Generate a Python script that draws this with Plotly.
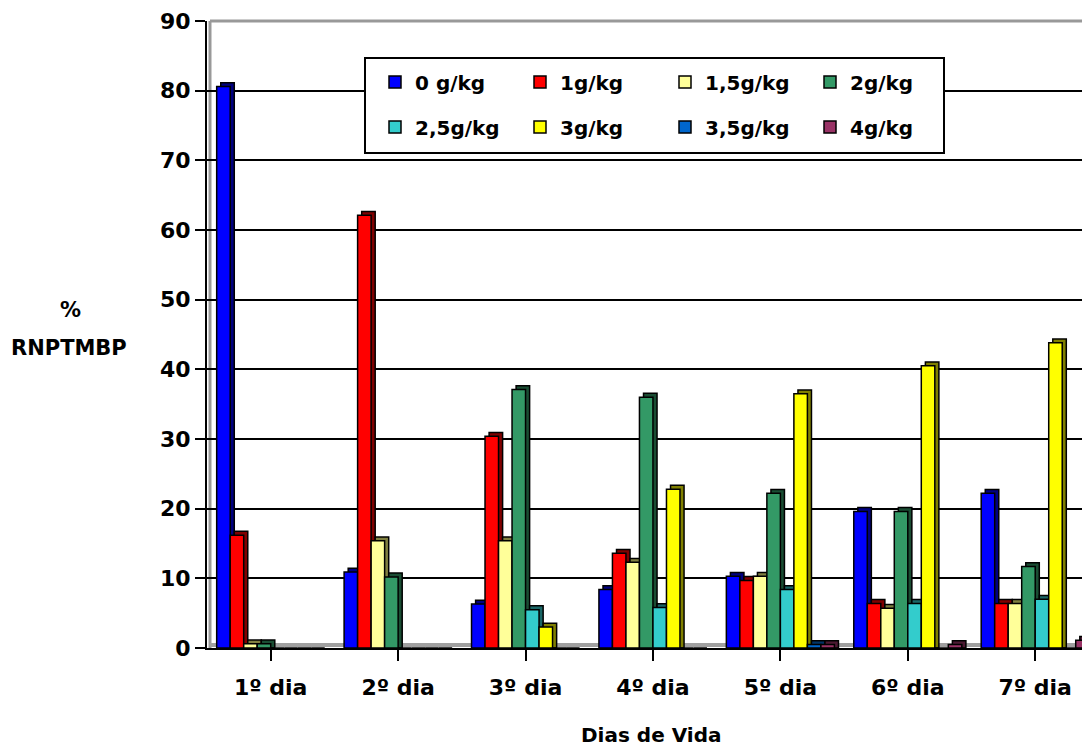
import plotly.graph_objects as go

days = ["1º dia", "2º dia", "3º dia", "4º dia", "5º dia", "6º dia", "7º dia"]
series_names = ["0 g/kg", "1g/kg", "1,5g/kg", "2g/kg", "2,5g/kg", "3g/kg", "3,5g/kg", "4g/kg"]

v_0 = [80.6, 10.9, 6.3, 8.4, 10.3, 19.6, 22.2]
v_1 = [16.2, 62.1, 30.4, 13.6, 9.7, 6.4, 6.4]
v_15 = [0.6, 15.4, 15.4, 12.3, 10.3, 5.7, 6.4]
v_2 = [0.6, 10.2, 37.1, 36.0, 22.2, 19.6, 11.7]
v_25 = [0, 0, 5.5, 5.8, 8.4, 6.4, 7.0]
v_3 = [0, 0, 3.0, 22.8, 36.5, 40.5, 43.8]
v_35 = [0, 0, 0, 0, 0.5, 0, 0]
v_4 = [0, 0, 0, 0, 0.5, 0.5, 1.1]

values = [v_0, v_1, v_15, v_2, v_25, v_3, v_35, v_4]
colors = ["#0000FF", "#FF0000", "#FFFF99", "#339966", "#33CCCC", "#FFFF00", "#0066CC", "#993366"]
dark = ["#000080", "#800000", "#808040", "#1A4D33", "#1A6666", "#808000", "#003366", "#4D1A33"]

FONT = "DejaVu Sans"
x_idx = list(range(len(days)))
n = len(series_names)
bw = 0.106
start = -bw * n / 2
depth_x = 0.032
depth_y = 0.55

fig = go.Figure()
# 3D side/top faces (drawn behind)
for i in range(n):
    ys = [v + depth_y if v > 0 else None for v in values[i]]
    fig.add_trace(go.Bar(
        x=x_idx, y=ys, width=bw, offset=start + i * bw + depth_x,
        marker=dict(color=dark[i], line=dict(color="black", width=1.5)),
        showlegend=False, hoverinfo="skip"))
# front faces
for i in range(n):
    fig.add_trace(go.Bar(
        x=x_idx, y=values[i], width=bw, offset=start + i * bw, name=series_names[i],
        marker=dict(color=colors[i], line=dict(color="black", width=1.5)),
        legend="legend" if i < 4 else "legend2"))

OFF = 8  # page body margin
W, H = 1090 - OFF, 747 - OFF
L, R, T, B = 207 - OFF, 0, 21 - OFF, 747 - 648
pw = W - L - R
ph = H - T - B

def px_x(p):
    return (p - OFF - L) / pw

def px_y(p):
    return (H - B - (p - OFF)) / ph

legend_common = dict(orientation="h", xanchor="left", yanchor="middle",
                     bgcolor="rgba(0,0,0,0)", borderwidth=0,
                     font=dict(family=FONT, size=20, color="black", weight="bold"),
                     entrywidth=100, itemwidth=30, traceorder="normal")

fig.update_layout(
    width=W, height=H,
    margin=dict(l=L, r=R, t=T, b=B, autoexpand=False),
    paper_bgcolor="white", plot_bgcolor="white",
    barmode="overlay",
    font=dict(family=FONT, size=20, color="black", weight="bold"),
    xaxis=dict(range=[-0.5, 6.43], tickvals=x_idx, ticktext=days,
               showline=True, linecolor="black", linewidth=2,
               ticks="outside", ticklen=11, tickwidth=2, tickcolor="black",
               ticklabelstandoff=8,
               showgrid=False, zeroline=False,
               tickfont=dict(family=FONT, size=22, color="black", weight="bold")),
    yaxis=dict(range=[0, 90], tickvals=list(range(0, 91, 10)),
               showline=True, linecolor="black", linewidth=2,
               ticks="outside", ticklen=10, tickwidth=2, tickcolor="black",
               showgrid=True, gridcolor="black", gridwidth=2, zeroline=False,
               tickfont=dict(family=FONT, size=22, color="black", weight="bold")),
    legend=dict(legend_common, x=px_x(375), y=px_y(82)),
    legend2=dict(legend_common, x=px_x(375), y=px_y(127)),
    shapes=[
        dict(type="line", xref="paper", yref="paper", x0=px_x(210), x1=px_x(210), y0=0, y1=1,
             line=dict(color="#999999", width=3), layer="below"),
        dict(type="line", xref="paper", yref="paper", x0=px_x(210), x1=1, y0=1, y1=1,
             line=dict(color="#999999", width=3), layer="above"),
        dict(type="rect", xref="paper", yref="paper", x0=px_x(210), x1=1, y0=px_y(647), y1=px_y(643),
             fillcolor="#A0A0A0", line=dict(width=0), layer="below"),
        dict(type="rect", xref="paper", yref="paper", x0=px_x(365), x1=px_x(944), y0=px_y(153), y1=px_y(58),
             fillcolor="white", line=dict(color="black", width=2), layer="above"),
    ],
    annotations=[
        dict(text="%", xref="paper", yref="paper", x=px_x(70), y=px_y(310),
             showarrow=False, xanchor="center", yanchor="middle",
             font=dict(family=FONT, size=21, color="black", weight="bold")),
        dict(text="RNPTMBP", xref="paper", yref="paper", x=px_x(69), y=px_y(348),
             showarrow=False, xanchor="center", yanchor="middle",
             font=dict(family=FONT, size=21, color="black", weight="bold")),
        dict(text="Dias de Vida", xref="paper", yref="paper", x=px_x(651), y=px_y(735),
             showarrow=False, xanchor="center", yanchor="middle",
             font=dict(family=FONT, size=20, color="black", weight="bold")),
    ],
)

fig.write_html("out.html")
